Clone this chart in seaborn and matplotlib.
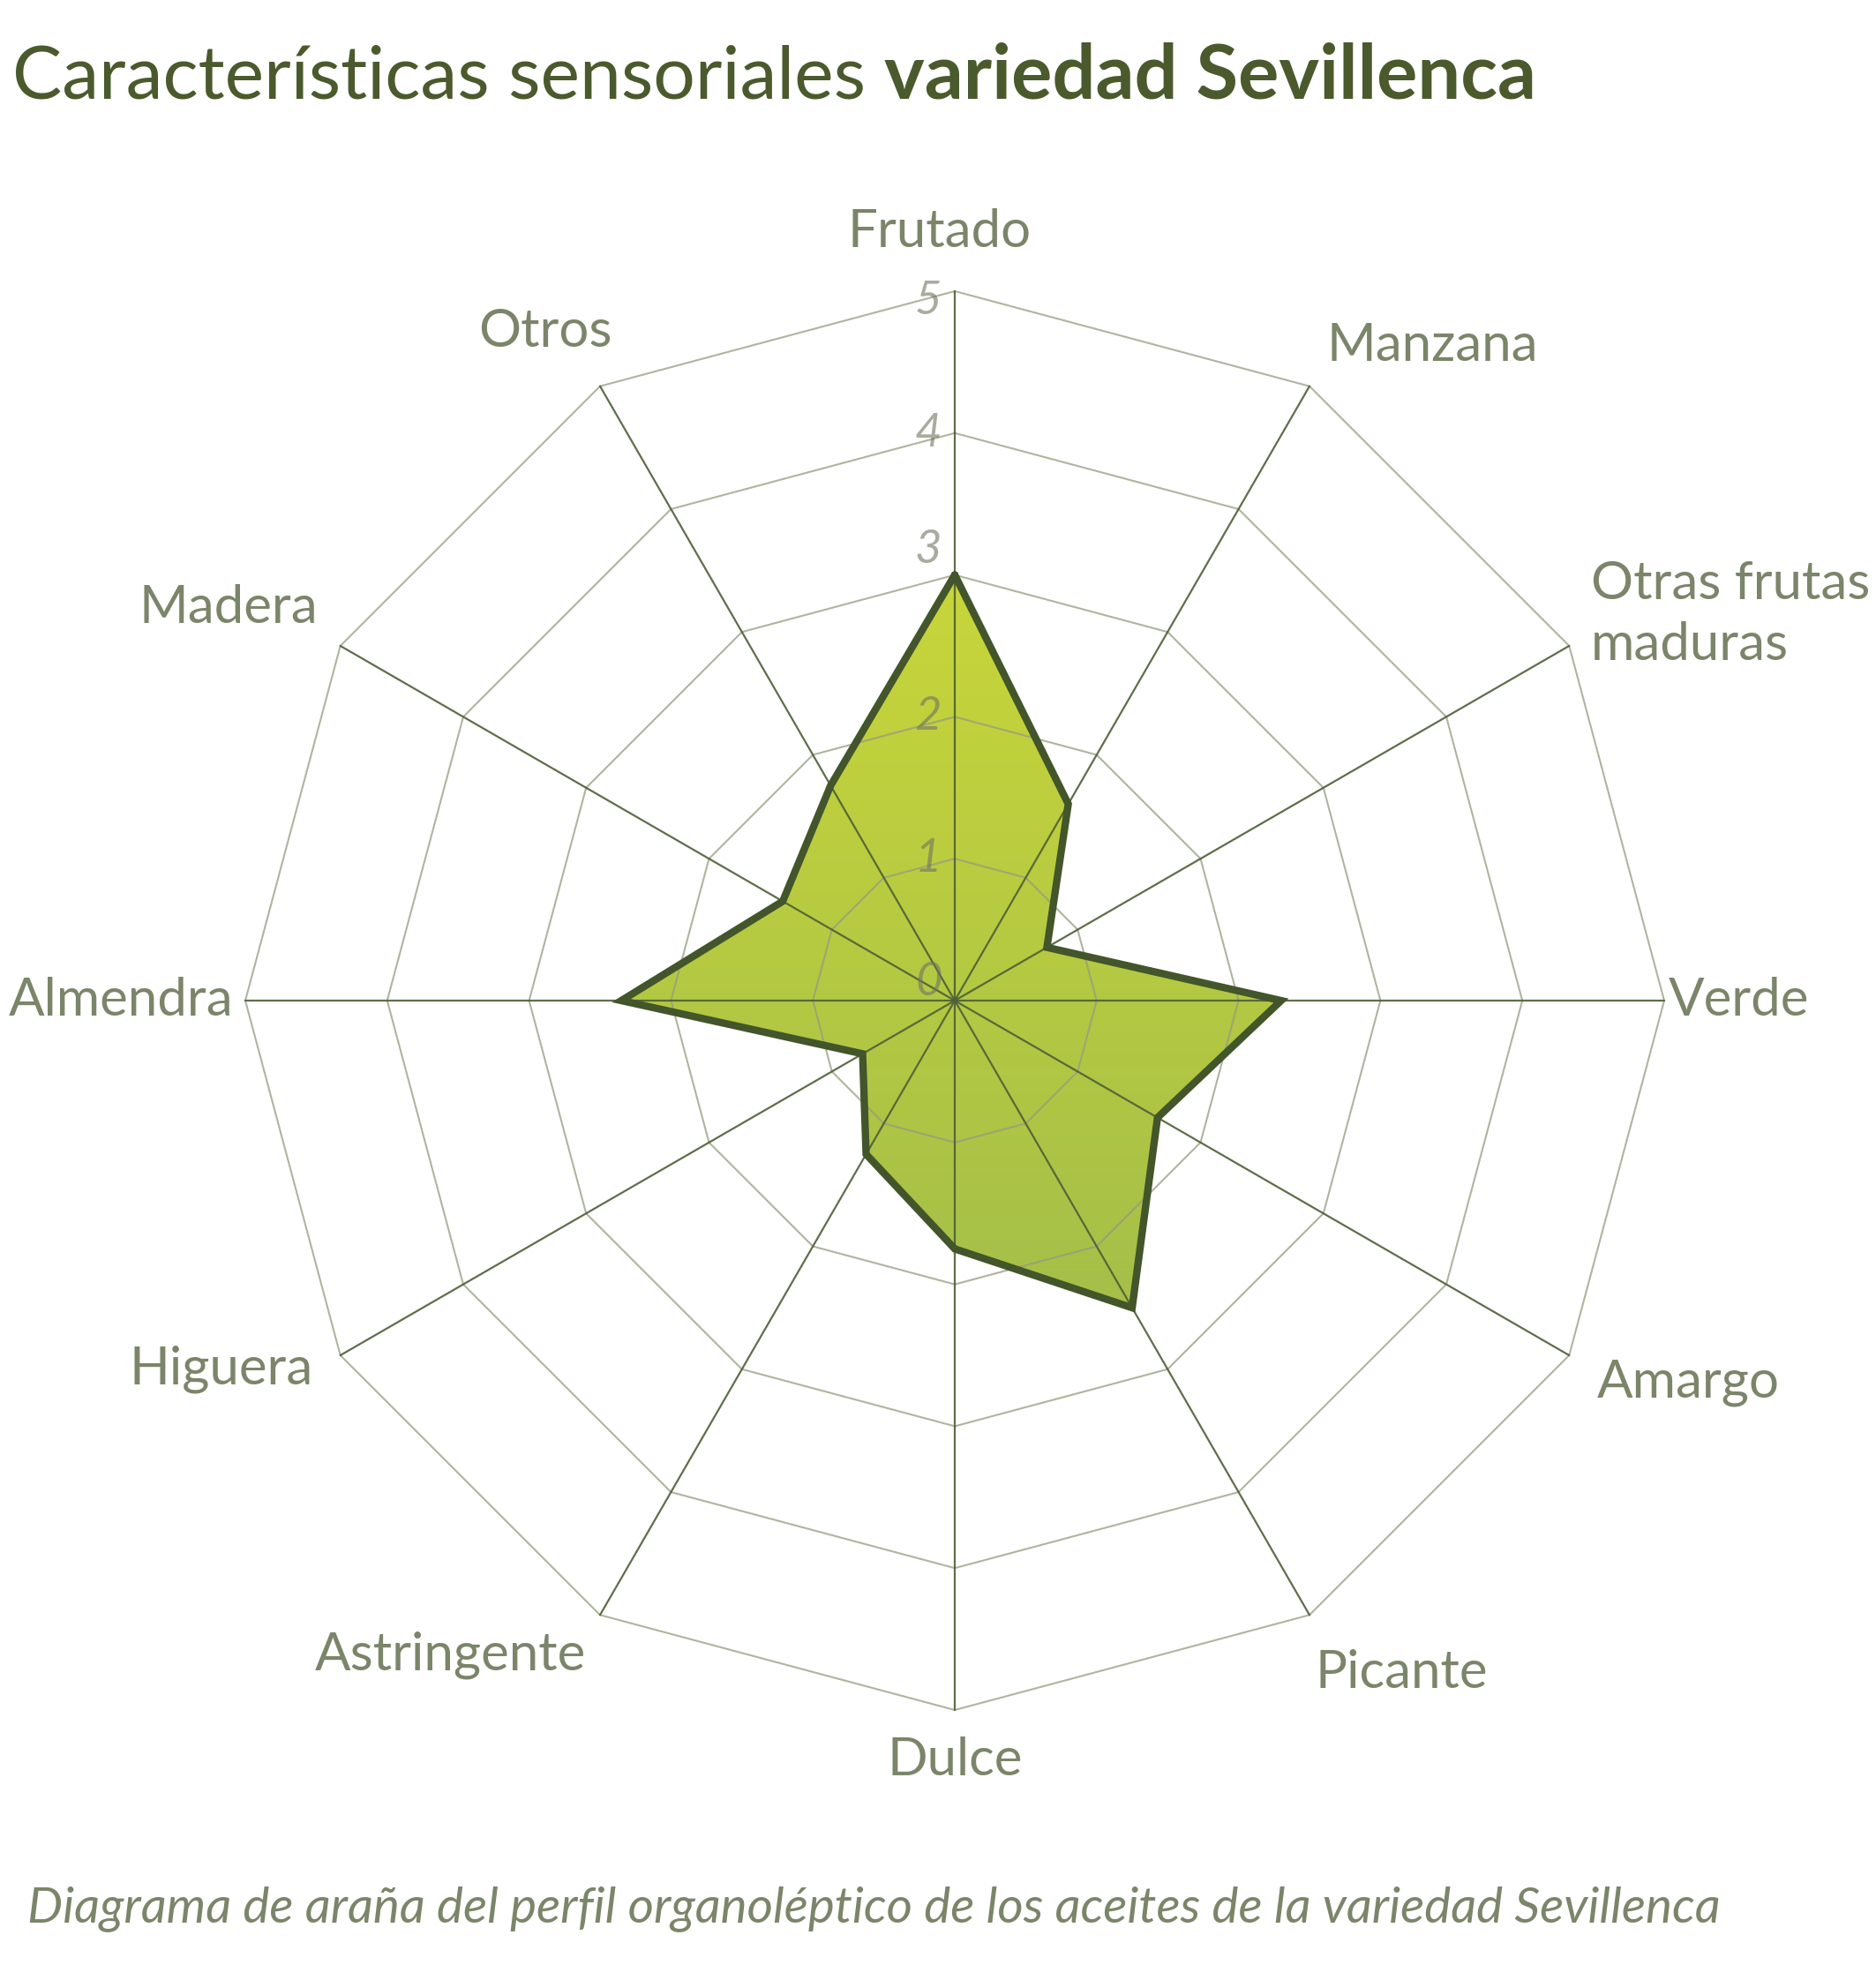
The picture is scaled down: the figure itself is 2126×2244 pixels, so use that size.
import numpy as np
import pandas as pd
import matplotlib
matplotlib.use("Agg")
import matplotlib.pyplot as plt
import seaborn as sns
from matplotlib.colors import LinearSegmentedColormap

# ---------------- data ----------------
categories = ["Frutado", "Manzana", "Otras frutas\nmaduras", "Verde", "Amargo", "Picante",
              "Dulce", "Astringente", "Higuera", "Almendra", "Madera", "Otros"]
values = [3.0, 1.6, 0.75, 2.3, 1.65, 2.5, 1.75, 1.25, 0.75, 2.35, 1.4, 1.75]
levels = [0, 1, 2, 3, 4, 5]
level_labels = ["0", "1", "2", "3", "4", "5"]
title_regular = "Características sensoriales"
title_bold = "variedad Sevillenca"
caption = "Diagrama de araña del perfil organoléptico de los aceites de la variedad Sevillenca"

# ---------------- style ----------------
W, H, DPI = 2126, 2244, 200
CX, CY, UNIT = 1082, 1134, 160.8
TITLE_COLOR = "#4a5a2c"
LABEL_COLOR = "#7b8569"
GRID_COLOR = "#959b80"
SPOKE_COLOR = "#4e5e36"
LINE_COLOR = "#43552a"
level_label_offsets = [0.13, 0.0, 0.0, 0.18, 0.0, -0.07]
label_nudges = [(-0.107, 0.0), (-0.071, -0.045), (-0.178, 0.03), (-0.089, 0.0),
                (-0.134, 0.0), (-0.151, -0.08), (0.0, 0.062), (0.089, 0.045),
                (0.134, 0.089), (0.036, 0.0), (0.169, 0.08), (0.276, 0.053)]

sns.set_theme(style="white")
plt.rcParams['font.family'] = ['Lato', 'DejaVu Sans']

fig = plt.figure(figsize=(W / DPI, H / DPI), dpi=DPI)
fig.patch.set_facecolor("white")
ax = fig.add_axes([0, 0, 1, 1])
xlim = (-CX / UNIT, (W - CX) / UNIT)
ylim = (-(H - CY) / UNIT, CY / UNIT)

n = len(categories)
theta = np.arange(n) * 2 * np.pi / n
sx, sy = np.sin(theta), np.cos(theta)
rmax = max(levels)

vals = np.array(values)
df = pd.DataFrame({"cat": categories, "value": vals, "x": vals * sx, "y": vals * sy})
df_closed = pd.concat([df, df.iloc[:1]], ignore_index=True)

# filled area with vertical gradient
poly = ax.fill(df["x"], df["y"], facecolor="none", edgecolor="none", zorder=1)[0]
cmap = LinearSegmentedColormap.from_list("oliva", ["#a2bd4a", "#c8d63a"])
grad = np.linspace(1, 0, 256).reshape(-1, 1)
im = ax.imshow(grad, extent=(-rmax, rmax, -2.6, 3.05), cmap=cmap, origin="upper",
               aspect="auto", zorder=1, interpolation="bicubic")
im.set_clip_path(poly)

# polygonal grid
ring_idx = list(range(n)) + [0]
for lv in levels[1:]:
    ax.plot(lv * sx[ring_idx], lv * sy[ring_idx], color=GRID_COLOR, lw=0.75,
            alpha=0.75, zorder=2, solid_joinstyle="miter")
# spokes
for i in range(n):
    ax.plot([0, rmax * sx[i]], [0, rmax * sy[i]], color=SPOKE_COLOR, lw=0.8,
            alpha=0.9, zorder=2)

# outline
sns.lineplot(data=df_closed, x="x", y="y", sort=False, estimator=None, ax=ax,
             color=LINE_COLOR, lw=3.0, zorder=4, solid_joinstyle="miter")

# level labels
for lv, lbl, off in zip(levels, level_labels, level_label_offsets):
    ax.text(-0.09, lv + off, lbl, ha="right", va="center", style="italic",
            color="#6f7560", alpha=0.6, fontsize=19, zorder=3)

# category labels
for i, cat in enumerate(categories):
    s, c = sx[i], sy[i]
    cardinal = abs(s) < 0.1 or abs(c) < 0.1
    r = 5.12 if cardinal else 5.38
    if abs(c) > 0.9:
        r = 5.25
    ha = "left" if s > 0.1 else ("right" if s < -0.1 else "center")
    va = "bottom" if c > 0.9 else ("top" if c < -0.9 else "center")
    dx, dy = label_nudges[i]
    ax.text(r * s + dx, r * c + dy, cat, ha=ha, va=va, color=LABEL_COLOR, fontsize=21.6,
            linespacing=1.35, zorder=5)

ax.set_xlim(*xlim)
ax.set_ylim(*ylim)
ax.set_aspect("auto")
ax.axis("off")

# title (regular + bold)
t1 = fig.text(14 / W, 1 - 112 / H, title_regular, fontsize=30.3, color=TITLE_COLOR,
              va="baseline", ha="left")
fig.canvas.draw()
bb = t1.get_window_extent(renderer=fig.canvas.get_renderer())
gap = 0.25 * 30 * DPI / 72
fig.text((bb.x1 + gap) / W, 1 - 112 / H, title_bold, fontsize=31.2, color=TITLE_COLOR,
         fontweight="bold", va="baseline", ha="left")

# caption
fig.text(31 / W, 1 - 2178 / H, caption, fontsize=20.4, style="italic",
         color=LABEL_COLOR, va="baseline", ha="left")

fig.savefig("out.png", dpi=DPI, facecolor="white")
